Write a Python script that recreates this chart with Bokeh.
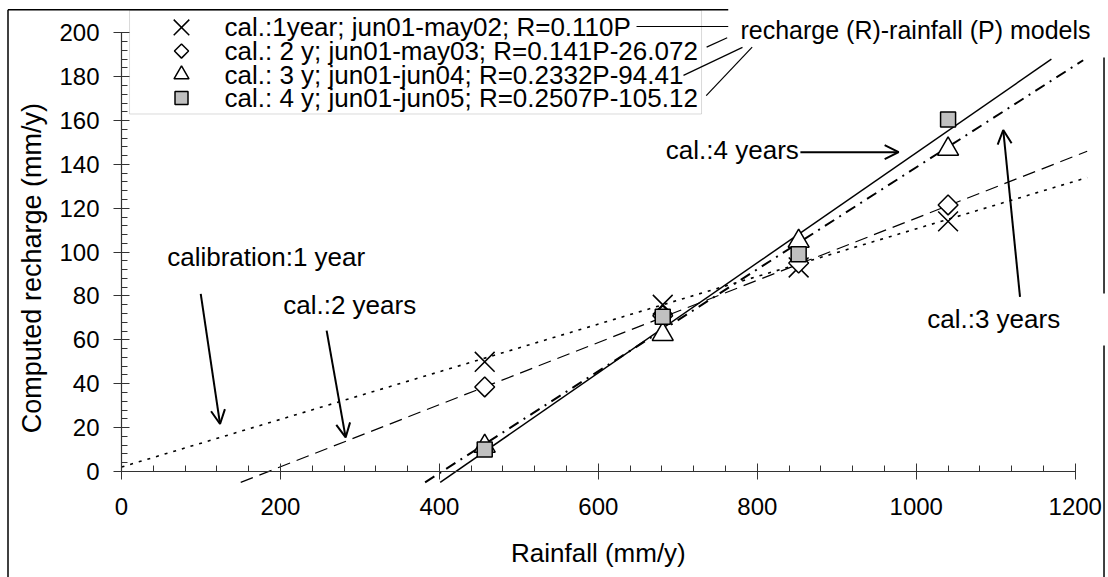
import math
from bokeh.plotting import figure
from bokeh.models import (Range1d, SingleIntervalTicker, Label, Arrow, OpenHead, BoxAnnotation)
from bokeh.embed import file_html
from bokeh.resources import INLINE

# ---- data ----
rain = [457, 681, 852, 1040]
rech_1y = [50, 76, 93, 114]
rech_2y = [38.5, 71, 95, 121.5]
rech_3y = [11.5, 62.5, 105, 147]
rech_4y = [10, 70.5, 99, 160.5]

# recharge-rainfall model lines (end points)
model1_p = [0, 1215]
model1_r = [2, 134]
model2_p = [150, 1215]
model2_r = [-5, 146]
model3_p = [382, 1210]
model3_r = [-5, 187.5]
model4_p = [401, 1170]
model4_r = [-5, 188]

legend_labels = [
    "cal.:1year; jun01-may02; R=0.110P",
    "cal.: 2 y; jun01-may03; R=0.141P-26.072",
    "cal.: 3 y; jun01-jun04; R=0.2332P-94.41",
    "cal.: 4 y; jun01-jun05; R=0.2507P-105.12",
]
x_ticks = [0, 200, 400, 600, 800, 1000, 1200]
y_ticks = [0, 20, 40, 60, 80, 100, 120, 140, 160, 180, 200]

FONT = "Liberation Sans"

# the plotting frame covers the whole canvas; axes are placed at fixed locations
p = figure(width=1105, height=577, output_backend="svg", toolbar_location=None,
           x_range=Range1d(-152.24, 1238.07), y_range=Range1d(-48.39, 214.76),
           min_border_left=0, min_border_right=0, min_border_top=0, min_border_bottom=0)
p.background_fill_color = "white"
p.border_fill_color = "white"
p.outline_line_color = None
p.xgrid.visible = False
p.ygrid.visible = False

# axes
xa = p.xaxis[0]
xa.ticker = SingleIntervalTicker(interval=200, num_minor_ticks=5)
xa.bounds = (x_ticks[0], x_ticks[-1])
xa.fixed_location = 0
ya = p.yaxis[0]
ya.ticker = SingleIntervalTicker(interval=20, num_minor_ticks=5)
ya.bounds = (y_ticks[0], y_ticks[-1])
ya.fixed_location = 0
for ax in (xa, ya):
    ax.axis_line_color = "#333333"
    ax.axis_line_width = 1.2
    ax.major_tick_line_color = "#333333"
    ax.minor_tick_line_color = "#333333"
    ax.major_tick_in = 8
    ax.major_tick_out = 8
    ax.minor_tick_in = 6
    ax.minor_tick_out = 0
    ax.major_label_text_font = FONT
    ax.major_label_text_font_size = "24px"
    ax.major_label_text_color = "black"
xa.major_label_standoff = 19
ya.major_label_standoff = 14

# outer chart frame (left, top part, right parts)
frame_lines = [
    (-142.8, -48.4, -142.8, 210.5),
    (-142.8, 210.5, 763.4, 210.5),
    (1236.2, 188.8, 1236.2, 81.1),
    (1236.2, 57.4, 1236.2, -48.4),
]
for xs, ys, xe, ye in frame_lines:
    p.add_layout(Arrow(x_start=xs, y_start=ys, x_end=xe, y_end=ye, line_width=1.5,
                       line_color="black", end=None))

# model lines
p.line(model1_p, model1_r, line_color="black", line_width=1.6, line_dash="3 6")
p.line(model2_p, model2_r, line_color="black", line_width=1.2, line_dash="13 7")
p.line(model3_p, model3_r, line_color="black", line_width=2, line_dash="11 6 2 6")
p.line(model4_p, model4_r, line_color="black", line_width=1.5)

# points
p.scatter(rain, rech_1y, marker="x", size=28, line_color="black", line_width=1.5)
p.scatter(rain, rech_2y, marker="square", angle=math.pi / 4, size=14,
          fill_color="white", line_color="black", line_width=1.5)
p.scatter(rain, rech_3y, marker="triangle", size=21,
          fill_color="white", line_color="black", line_width=1.5)
p.scatter(rain, rech_4y, marker="square", size=15,
          fill_color="#c0c0c0", line_color="black", line_width=1.5)

# legend (box, keys, texts)
p.add_layout(BoxAnnotation(left=10.1, right=729.8, top=210.2, bottom=163.0,
                           fill_color="white", fill_alpha=1, line_color="#808080",
                           line_width=1, level="underlay"))
key_x = [75.5]
key_y = [202.5, 191.7, 181.0, 170.3]
p.scatter(key_x, key_y[0:1], marker="x", size=22, line_color="black", line_width=1.5)
p.scatter(key_x, key_y[1:2], marker="square", angle=math.pi / 4, size=10,
          fill_color="white", line_color="black", line_width=1.5)
p.scatter(key_x, key_y[2:3], marker="triangle", size=15,
          fill_color="white", line_color="black", line_width=1.5)
p.scatter(key_x, key_y[3:4], marker="square", size=13,
          fill_color="#c0c0c0", line_color="black", line_width=1.5)

def add_label(txt, x, y, align="left", size="26px", angle=0.0):
    p.add_layout(Label(x=x, y=y, text=txt, text_font=FONT, text_font_size=size,
                       text_color="black", text_align=align, text_baseline="middle",
                       angle=angle))

for txt, ky in zip(legend_labels, key_y):
    add_label(txt, 129.6, ky)

add_label("Rainfall (mm/y)", 600, -37.4, align="center")
add_label("Computed recharge (mm/y)", -113.2, 92.7, align="center", size="27px",
          angle=math.pi / 2)
add_label("calibration:1 year", 57.5, 98.0)
add_label("cal.:2 years", 203.5, 75.7)
add_label("cal.:4 years", 852.2, 146.4, align="right")
add_label("cal.:3 years", 1013.8, 69.7)
add_label("recharge (R)-rainfall (P) models", 778.8, 201.5, size="25px")

# pointer arrows
arrows = [
    (99.7, 81.0, 124.0, 21.6),
    (258.1, 64.2, 282.0, 15.5),
    (854.2, 145.6, 977.8, 145.6),
    (1130.5, 79.6, 1109.4, 155.7),
]
for xs, ys, xe, ye in arrows:
    p.add_layout(Arrow(x_start=xs, y_start=ys, x_end=xe, y_end=ye, line_width=2,
                       line_color="black",
                       end=OpenHead(size=14, line_width=2, line_color="black")))

# leader lines from the legend to the model caption
leaders = [
    (648.0, 202.9, 763.4, 202.9),
    (736.2, 193.5, 762.1, 197.8),
    (707.1, 180.6, 781.3, 193.4),
    (735.7, 171.4, 793.5, 193.5),
]
for xs, ys, xe, ye in leaders:
    p.add_layout(Arrow(x_start=xs, y_start=ys, x_end=xe, y_end=ye, line_width=1.2,
                       line_color="black", end=None))

open("out.html", "w").write(file_html(p, INLINE))
